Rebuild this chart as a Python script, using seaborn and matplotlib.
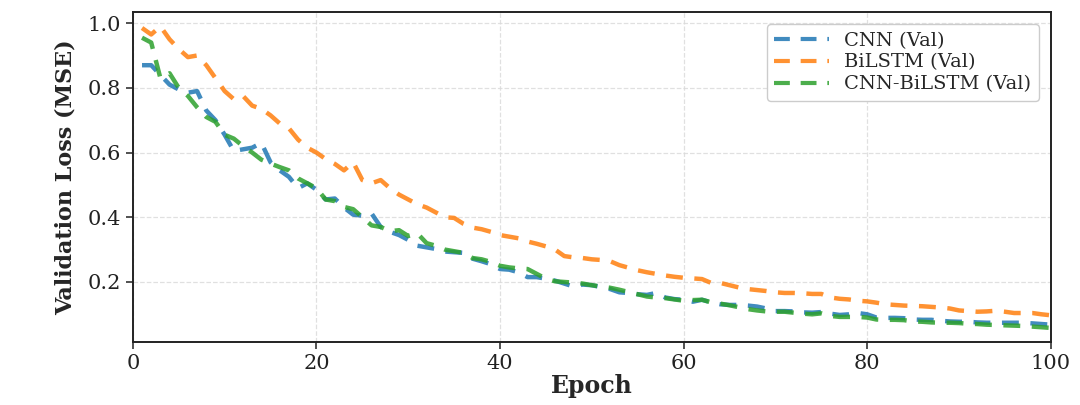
import numpy as np
import pandas as pd
import matplotlib
matplotlib.use("Agg")
import matplotlib.pyplot as plt
import seaborn as sns

# Validation loss per epoch
epochs = list(range(1, 101))

cnn_val = [
    0.870, 0.870, 0.840, 0.810, 0.795, 0.785, 0.790, 0.730, 0.700, 0.655,
    0.605, 0.610, 0.615, 0.630, 0.570, 0.545, 0.525, 0.490, 0.505, 0.485,
    0.455, 0.458, 0.430, 0.408, 0.405, 0.412, 0.370, 0.355, 0.345, 0.330,
    0.312, 0.307, 0.302, 0.294, 0.292, 0.290, 0.272, 0.264, 0.255, 0.240,
    0.238, 0.230, 0.215, 0.215, 0.210, 0.204, 0.195, 0.186, 0.192, 0.190,
    0.184, 0.178, 0.168, 0.166, 0.162, 0.160, 0.166, 0.152, 0.147, 0.145,
    0.139, 0.145, 0.137, 0.131, 0.129, 0.129, 0.127, 0.124, 0.118, 0.110,
    0.110, 0.109, 0.106, 0.105, 0.107, 0.102, 0.098, 0.100, 0.104, 0.100,
    0.090, 0.089, 0.089, 0.088, 0.084, 0.083, 0.083, 0.080, 0.078, 0.077,
    0.077, 0.075, 0.074, 0.074, 0.074, 0.074, 0.074, 0.072, 0.070, 0.068,
]

bilstm_val = [
    0.985, 0.965, 0.990, 0.950, 0.920, 0.895, 0.900, 0.870, 0.830, 0.790,
    0.765, 0.775, 0.745, 0.735, 0.715, 0.690, 0.675, 0.640, 0.615, 0.600,
    0.580, 0.565, 0.545, 0.570, 0.515, 0.505, 0.515, 0.490, 0.470, 0.455,
    0.440, 0.430, 0.415, 0.400, 0.398, 0.380, 0.368, 0.363, 0.355, 0.345,
    0.340, 0.335, 0.325, 0.318, 0.310, 0.300, 0.280, 0.276, 0.274, 0.270,
    0.268, 0.264, 0.252, 0.244, 0.236, 0.230, 0.225, 0.220, 0.216, 0.213,
    0.211, 0.209, 0.197, 0.197, 0.190, 0.183, 0.178, 0.175, 0.172, 0.168,
    0.166, 0.166, 0.165, 0.163, 0.163, 0.152, 0.148, 0.146, 0.142, 0.140,
    0.136, 0.131, 0.129, 0.127, 0.126, 0.125, 0.123, 0.121, 0.118, 0.112,
    0.110, 0.108, 0.109, 0.111, 0.108, 0.104, 0.104, 0.104, 0.100, 0.097,
]

cnn_bilstm_val = [
    0.955, 0.940, 0.830, 0.845, 0.800, 0.775, 0.740, 0.710, 0.695, 0.655,
    0.643, 0.620, 0.600, 0.578, 0.566, 0.555, 0.545, 0.520, 0.505, 0.490,
    0.455, 0.450, 0.432, 0.425, 0.400, 0.375, 0.370, 0.357, 0.360, 0.342,
    0.350, 0.320, 0.312, 0.300, 0.295, 0.290, 0.274, 0.270, 0.262, 0.250,
    0.245, 0.242, 0.240, 0.225, 0.210, 0.202, 0.200, 0.198, 0.195, 0.190,
    0.186, 0.182, 0.176, 0.169, 0.162, 0.155, 0.152, 0.150, 0.146, 0.142,
    0.144, 0.145, 0.137, 0.133, 0.128, 0.122, 0.116, 0.112, 0.109, 0.108,
    0.108, 0.105, 0.102, 0.100, 0.103, 0.095, 0.092, 0.092, 0.092, 0.090,
    0.084, 0.083, 0.083, 0.082, 0.078, 0.077, 0.075, 0.074, 0.074, 0.073,
    0.071, 0.070, 0.068, 0.067, 0.066, 0.065, 0.064, 0.062, 0.060, 0.058,
]

model_names = ["CNN (Val)", "BiLSTM (Val)", "CNN-BiLSTM (Val)"]
model_colors = ["#1f77b4", "#ff7f0e", "#2ca02c"]


def build_frame():
    """Long-form table for seaborn."""
    parts = []
    for name, vals in zip(model_names, [cnn_val, bilstm_val, cnn_bilstm_val]):
        parts.append(pd.DataFrame({"Epoch": epochs, "Loss": vals, "Model": name}))
    return pd.concat(parts, ignore_index=True)


def main():
    sns.set_theme(style="ticks")
    plt.rcParams["font.family"] = ["DejaVu Serif"]

    df = build_frame()

    fig = plt.figure(figsize=(10.8, 4.05), dpi=100)
    ax = fig.add_axes([0.123, 0.156, 0.850, 0.814])

    sns.lineplot(data=df, x="Epoch", y="Loss", hue="Model",
                 palette=dict(zip(model_names, model_colors)),
                 linewidth=3.2, alpha=0.85, ax=ax)
    # long dashes like the reference
    for line in ax.lines:
        line.set_dashes((3.8, 2.6))

    ax.set_xlim(0, 100)
    ax.set_ylim(0.015, 1.034)
    ax.set_xticks([0, 20, 40, 60, 80, 100])
    ax.set_yticks([0.2, 0.4, 0.6, 0.8, 1.0])
    ax.grid(True, linestyle="--", color="#d9d9d9", linewidth=0.9, alpha=0.8)

    for side in ["top", "right", "left", "bottom"]:
        ax.spines[side].set_visible(True)
        ax.spines[side].set_color("#222222")
        ax.spines[side].set_linewidth(1.4)
    ax.tick_params(axis="both", labelsize=15, length=5, width=1.2,
                   colors="#333333", labelcolor="#222222")

    ax.set_xlabel("Epoch", fontsize=17, fontweight="bold", labelpad=1)
    ax.set_ylabel("Validation Loss (MSE)", fontsize=16, fontweight="bold", labelpad=8)

    leg = ax.legend(loc="upper right", fontsize=14, frameon=True,
                    fancybox=True, edgecolor="#cccccc", framealpha=1.0,
                    borderaxespad=0.6, handlelength=2.8, labelspacing=0.2)
    for line in leg.get_lines():
        line.set_dashes((3.8, 2.6))
        line.set_linewidth(3)

    fig.savefig("out.png", dpi=100)


if __name__ == "__main__":
    main()
